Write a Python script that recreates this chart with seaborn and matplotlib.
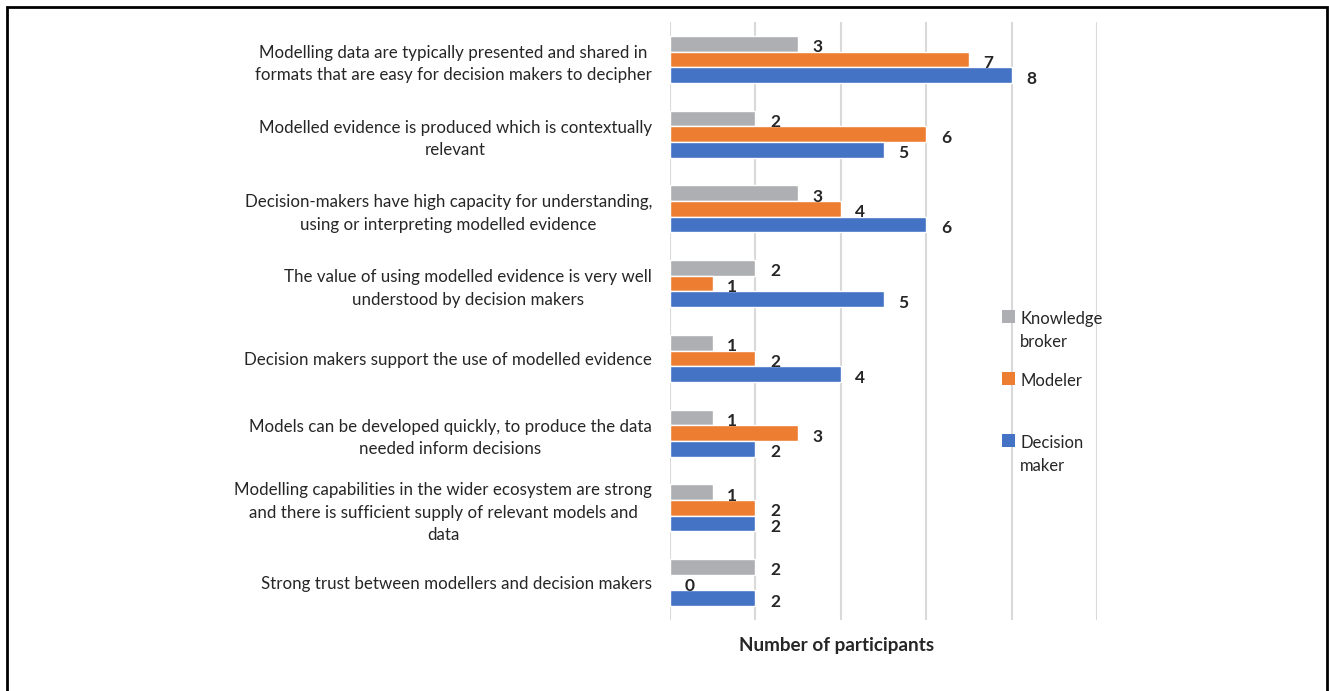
import matplotlib
matplotlib.use("Agg")
import matplotlib.pyplot as plt
import seaborn as sns
import pandas as pd
from matplotlib.patches import Rectangle

categories = [
    "Modelling data are typically presented and shared in\nformats that are easy for decision makers to decipher",
    "Modelled evidence is produced which is contextually\nrelevant",
    "Decision-makers have high capacity for understanding,\nusing or interpreting modelled evidence",
    "The value of using modelled evidence is very well\nunderstood by decision makers",
    "Decision makers support the use of modelled evidence",
    "Models can be developed quickly, to produce the data\nneeded inform decisions",
    "Modelling capabilities in the wider ecosystem are strong\nand there is sufficient supply of relevant models and\ndata",
    "Strong trust between modellers and decision makers",
]
series_names = ["Knowledge broker", "Modeler", "Decision maker"]
legend_labels = ["Knowledge\nbroker", "Modeler", "Decision\nmaker"]
knowledge_broker = [3, 2, 3, 2, 1, 1, 1, 2]
modeler = [7, 6, 4, 1, 2, 3, 2, 0]
decision_maker = [8, 5, 6, 5, 4, 2, 2, 2]
colors = ["#AEAFB2", "#ED7D31", "#4472C4"]
x_ticks = [0, 2, 4, 6, 8, 10]
x_label = "Number of participants"

rows = []
for name, vals in zip(series_names, [knowledge_broker, modeler, decision_maker]):
    for c, v in zip(categories, vals):
        rows.append({"category": c, "role": name, "count": v})
df = pd.DataFrame(rows)

sns.set_theme(style="white")
plt.rcParams["font.family"] = ["Lato", "DejaVu Sans"]
text_color = "#262626"

fig = plt.figure(figsize=(13.29, 6.91), dpi=100)
ax = fig.add_axes([670 / 1329, 1 - 620 / 691, (1097 - 670) / 1329, (620 - 22) / 691])

sns.barplot(data=df, y="category", x="count", hue="role", order=categories,
            hue_order=series_names, palette=colors, orient="h", width=0.63,
            saturation=1, ax=ax, legend=False, errorbar=None)

ax.set_xlim(0, 10)
ax.set_xticks(x_ticks)
ax.set_xticklabels([])
ax.tick_params(axis="both", length=0)
ax.grid(axis="x", color="#D9D9D9", linewidth=1.5)
ax.set_axisbelow(True)
for s in ax.spines.values():
    s.set_visible(False)
ax.set_ylabel("")
ax.set_xlabel("")
ax.tick_params(axis="y", pad=13)
for lab in ax.get_yticklabels():
    lab.set_multialignment("center")
    lab.set_fontsize(12.2)
    lab.set_linespacing(1.5)
    lab.set_color(text_color)

for cont in ax.containers:
    for bar in cont:
        w = bar.get_width()
        yc = bar.get_y() + bar.get_height() / 2
        ax.annotate(f"{int(w)}", xy=(w, yc), xytext=(10.5, -2.5), textcoords="offset points",
                    ha="left", va="center", fontsize=12.5, fontweight="bold", color=text_color)

fig.text(837 / 1329, 1 - 646 / 691, x_label, ha="center", va="center",
         fontsize=13.6, fontweight="bold", color=text_color)

# legend
marker_tops = [310, 372, 434]
for col, lab, top in zip(colors, legend_labels, marker_tops):
    fig.patches.append(Rectangle((1002 / 1329, 1 - (top + 13) / 691), 13 / 1329, 13 / 691,
                                 transform=fig.transFigure, facecolor=col, edgecolor="none"))
    fig.text(1020 / 1329, 1 - (top + 1) / 691, lab, ha="left", va="top", fontsize=12,
             color=text_color, linespacing=1.55)

# frame
fig.patches.append(Rectangle((7 / 1329, -0.02), 1320 / 1329, 1 - 7 / 691 + 0.02,
                             transform=fig.transFigure, facecolor="none", edgecolor="black",
                             linewidth=2))

fig.savefig("out.png", dpi=100, facecolor="white")
